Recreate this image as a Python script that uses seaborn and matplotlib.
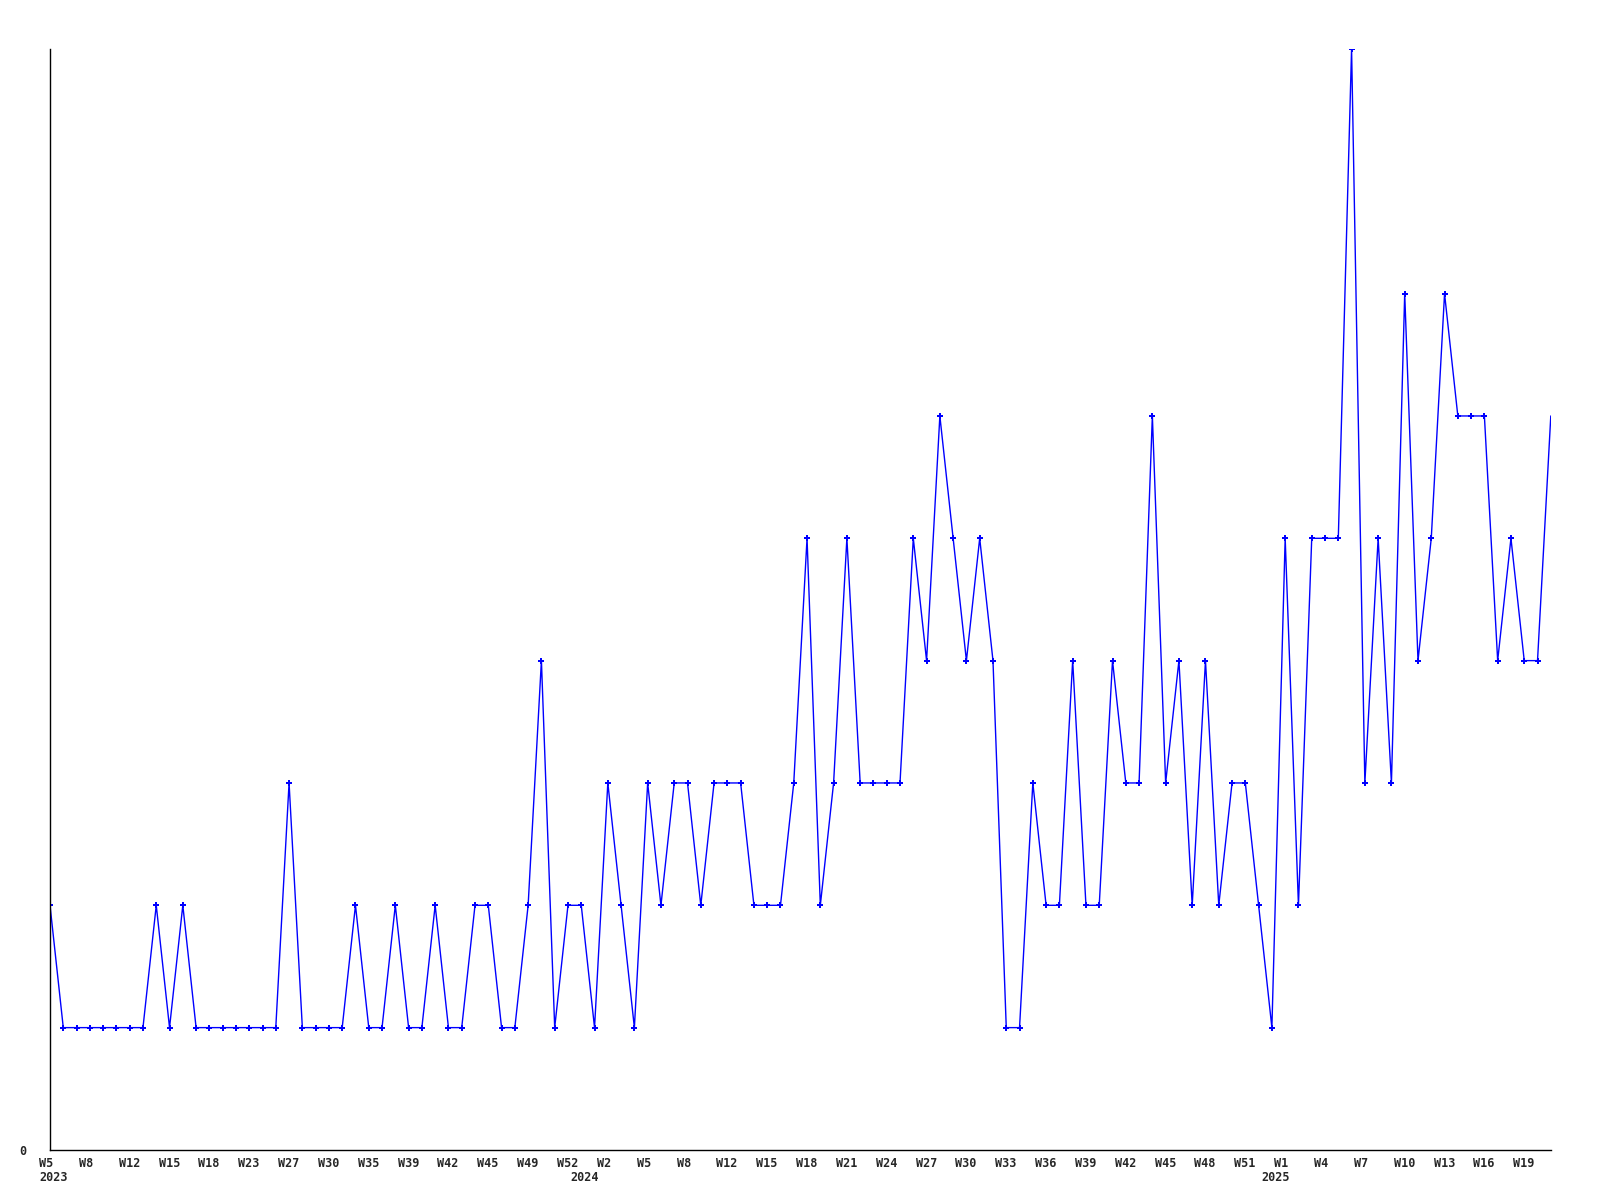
import matplotlib
matplotlib.use("Agg")
import matplotlib.pyplot as plt
import matplotlib.transforms as mtransforms
import seaborn as sns

# weekly counts, one value per point
counts = [
    2, 1, 1, 1, 1, 1, 1, 1, 2, 1, 2, 1, 1, 1, 1, 1, 1, 1, 3, 1,
    1, 1, 1, 2, 1, 1, 2, 1, 1, 2, 1, 1, 2, 2, 1, 1, 2, 4, 1, 2,
    2, 1, 3, 2, 1, 3, 2, 3, 3, 2, 3, 3, 3, 2, 2, 2, 3, 5, 2, 3,
    5, 3, 3, 3, 3, 5, 4, 6, 5, 4, 5, 4, 1, 1, 3, 2, 2, 4, 2, 2,
    4, 3, 3, 6, 3, 4, 2, 4, 2, 3, 3, 2, 1, 5, 2, 5, 5, 5, 9, 3,
    5, 3, 7, 4, 5, 7, 6, 6, 6, 4, 5, 4, 4, 6,
]

week_labels = [
    "W5", "W8", "W12", "W15", "W18", "W23", "W27", "W30", "W35", "W39",
    "W42", "W45", "W49", "W52", "W2", "W5", "W8", "W12", "W15", "W18",
    "W21", "W24", "W27", "W30", "W33", "W36", "W39", "W42", "W45", "W48",
    "W51", "W1", "W4", "W7", "W10", "W13", "W16", "W19",
]
label_step = 3

years = ["2023", "2024", "2025"]
year_start = [0, 40, 92]

sns.set_style("white")
plt.rcParams["font.family"] = ["DejaVu Sans Mono"]

fig = plt.figure(figsize=(16, 12), dpi=100)
ax = fig.add_axes([0.03125, 0.0417, 0.938, 0.9175])

pos = list(range(len(counts)))
sns.lineplot(x=pos, y=counts, ax=ax, color="#0000ff", linewidth=1,
             marker="P", markersize=5, markeredgewidth=0,
             markevery=slice(0, len(counts) - 1))

ax.set_xlim(0, len(counts) - 1)
ax.set_ylim(0, 9)

# keep year labels even where they sit on a week tick
ax.xaxis.remove_overlapping_locs = False
ax.set_xticks(range(0, len(week_labels) * label_step, label_step))
ax.set_xticklabels(week_labels, fontsize=8.5, fontweight="bold")
ax.set_xticks(year_start, minor=True)
ax.set_xticklabels(years, minor=True, fontsize=8.5, fontweight="bold")
ax.tick_params(axis="x", which="major", length=0, pad=5)
ax.tick_params(axis="x", which="minor", length=0, pad=15.5)

ax.set_yticks([0])
ax.set_yticklabels(["0"], fontsize=8.5, fontweight="bold")
ax.tick_params(axis="y", length=0, pad=17)

shift = mtransforms.ScaledTranslation(-11 / 100, 0, fig.dpi_scale_trans)
for lbl in ax.get_xticklabels() + ax.get_xticklabels(minor=True):
    lbl.set_ha("left")
    lbl.set_transform(lbl.get_transform() + shift)

for side in ["top", "right"]:
    ax.spines[side].set_visible(False)
for side in ["left", "bottom"]:
    ax.spines[side].set_color("black")
    ax.spines[side].set_linewidth(1)

ax.set_xlabel("")
ax.set_ylabel("")

fig.savefig("out.png", dpi=100, facecolor="white")
